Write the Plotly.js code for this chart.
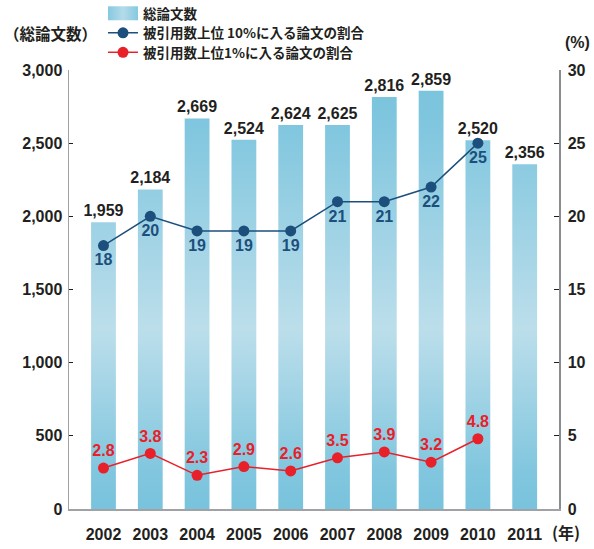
<!DOCTYPE html>
<html>
<head>
<meta charset="utf-8">
<script src="https://cdn.plot.ly/plotly-3.0.1.min.js"></script>
<style>html,body{margin:0;padding:0;background:#fff;}#chart{width:594px;height:549px;}</style>
</head>
<body>
<div id="chart"></div>
<script>
// ---- data ----
const years = ['2002','2003','2004','2005','2006','2007','2008','2009','2010','2011'];
const totalPapers = [1959, 2184, 2669, 2524, 2624, 2625, 2816, 2859, 2520, 2356];
const lineYears = ['2002','2003','2004','2005','2006','2007','2008','2009','2010'];
const top10Share = [18, 20, 19, 19, 19, 21, 21, 22, 25];
const top1Share = [2.8, 3.8, 2.3, 2.9, 2.6, 3.5, 3.9, 3.2, 4.8];
const leftTicks = [0, 500, 1000, 1500, 2000, 2500, 3000];
const rightTicks = [0, 5, 10, 15, 20, 25, 30];
const names = ['総論文数', '被引用数上位 10%に入る論文の割合', '被引用数上位1%に入る論文の割合'];

// ---- style ----
const W = 594, H = 549, M = {l: 69, r: 35, t: 70, b: 40, autoexpand: false};
const PW = W - M.l - M.r, PH = H - M.t - M.b;
const px = x => (x - M.l) / PW;
const py = y => (H - M.b - y) / PH;
const FONT = 'Liberation Sans, Arial, Noto Sans CJK JP, sans-serif';
const CJK = 'Noto Sans CJK JP, Liberation Sans, sans-serif';
const TXT = '#231f20', NAVY = '#1d4f7c', RED = '#e8202a', BARC = '#8ccde3';
const legFont = {family: CJK, size: 13.5, color: TXT, weight: 'bold'};
const legBase = {x: px(103), xanchor: 'left', yanchor: 'top', xref: 'paper', yref: 'paper',
                 font: legFont, bgcolor: 'rgba(0,0,0,0)', itemwidth: 30, borderwidth: 0};

const traces = [
  {
    type: 'bar', name: names[0], x: years, y: totalPapers, width: 0.53, legend: 'legend',
    marker: {color: BARC, line: {width: 0}},
    texttemplate: '%{y:,}', textposition: 'outside', constraintext: 'none',
    textfont: {family: FONT, size: 16, color: TXT, weight: 'bold'},
    cliponaxis: false, hoverinfo: 'skip'
  },
  {
    type: 'scatter', mode: 'lines+markers+text', name: names[1], x: lineYears, y: top10Share, yaxis: 'y2',
    legend: 'legend2',
    line: {color: NAVY, width: 1.5}, marker: {color: NAVY, size: 11},
    text: top10Share.map(String), textposition: 'bottom center',
    textfont: {family: FONT, size: 16, color: NAVY, weight: 'bold'},
    cliponaxis: false
  },
  {
    type: 'scatter', mode: 'lines+markers+text', name: names[2], x: lineYears, y: top1Share, yaxis: 'y2',
    legend: 'legend3',
    line: {color: RED, width: 1.5}, marker: {color: RED, size: 11},
    text: top1Share.map(v => v.toFixed(1)), textposition: 'top center',
    textfont: {family: FONT, size: 16, color: RED, weight: 'bold'},
    cliponaxis: false
  }
];

const layout = {
  width: W, height: H, margin: M,
  paper_bgcolor: '#fff', plot_bgcolor: '#fff',
  font: {family: FONT, size: 16, color: TXT, weight: 'bold'},
  showlegend: true,
  legend: Object.assign({}, legBase, {y: py(-2)}),
  legend2: Object.assign({}, legBase, {y: py(17.5)}),
  legend3: Object.assign({}, legBase, {y: py(37)}),
  xaxis: {
    type: 'category', range: [-0.737, 9.733], showline: true, linecolor: '#a0a2a5', linewidth: 1.5,
    ticks: '', showgrid: false, zeroline: false, fixedrange: true,
    tickfont: {family: FONT, size: 16, color: TXT, weight: 'bold'}, ticklabelstandoff: 10
  },
  yaxis: {
    range: [0, 3000], tickvals: leftTicks, tickformat: ',', showline: true, linecolor: '#a0a2a5', linewidth: 1.5,
    ticks: 'inside', ticklen: 4, tickcolor: TXT, tickwidth: 1, showgrid: false, zeroline: false,
    tickfont: {family: FONT, size: 16, color: TXT, weight: 'bold'}, ticklabelstandoff: 2
  },
  yaxis2: {
    overlaying: 'y', side: 'right', range: [0, 30], tickvals: rightTicks, showline: true,
    linecolor: '#8a8c8f', linewidth: 1.5, ticks: 'inside', ticklen: 5, tickcolor: TXT, tickwidth: 1,
    showgrid: false, zeroline: false,
    tickfont: {family: FONT, size: 16, color: TXT, weight: 'bold'}, ticklabelstandoff: 4
  },
  annotations: [
    {text: '（総論文数）', xref: 'paper', yref: 'paper', x: px(2), y: py(33), xanchor: 'left', yanchor: 'middle',
     showarrow: false, font: {family: CJK, size: 15.5, color: TXT, weight: 'bold'}},
    {text: '(%)', xref: 'paper', yref: 'paper', x: px(577), y: py(42), xanchor: 'center', yanchor: 'middle',
     showarrow: false, font: {family: FONT, size: 16, color: TXT, weight: 'bold'}},
    {text: '(年)', xref: 'paper', yref: 'paper', x: px(566), y: py(532), xanchor: 'center', yanchor: 'middle',
     showarrow: false, font: {family: CJK, size: 16, color: TXT, weight: 'bold'}}
  ]
};

function addGradient(gd) {
  const ns = 'http://www.w3.org/2000/svg';
  const svg = gd.querySelector('svg.main-svg');
  if (!svg) return;
  let defs = svg.querySelector('defs');
  if (!defs) { defs = document.createElementNS(ns, 'defs'); svg.insertBefore(defs, svg.firstChild); }
  const mk = (id, attrs, stops) => {
    let g = document.getElementById(id);
    if (g) g.remove();
    g = document.createElementNS(ns, 'linearGradient');
    g.setAttribute('id', id);
    Object.keys(attrs).forEach(k => g.setAttribute(k, attrs[k]));
    stops.forEach(s => {
      const st = document.createElementNS(ns, 'stop');
      st.setAttribute('offset', s[0]); st.setAttribute('stop-color', s[1]);
      g.appendChild(st);
    });
    defs.appendChild(g);
  };
  const h = gd._fullLayout._size.h;
  mk('bargrad', {gradientUnits: 'userSpaceOnUse', x1: 0, x2: 0, y1: 0, y2: h},
     [[0, '#78c3dc'], [0.12, '#7fc6de'], [0.59, '#bcdeeb'], [0.92, '#80c6de'], [1, '#79c3dc']]);
  mk('leggrad', {x1: 0, x2: 1, y1: 0, y2: 0},
     [[0, '#86c9e0'], [0.5, '#b4dbea'], [1, '#86c9e0']]);
  gd.querySelectorAll('.barlayer .point path').forEach(p => { p.style.fill = 'url(#bargrad)'; });
  gd.querySelectorAll('g.legendpoints path').forEach(p => {
    const d = p.getAttribute('d') || '';
    if (/^M6,6H-6V-6H6Z$/.test(d) || p.classList.contains('legendbar') || p.dataset.gradbar) {
      p.dataset.gradbar = '1';
      p.setAttribute('d', 'M-15,-7H15V7H-15Z');
      p.style.fill = 'url(#leggrad)';
      p.style.stroke = 'none';
    }
  });
}

const gd = document.getElementById('chart');
Plotly.newPlot(gd, traces, layout, {staticPlot: true, displayModeBar: false}).then(() => {
  addGradient(gd);
  gd.on('plotly_afterplot', () => addGradient(gd));
  setTimeout(() => addGradient(gd), 50);
  setTimeout(() => addGradient(gd), 300);
});
</script>
</body>
</html>
